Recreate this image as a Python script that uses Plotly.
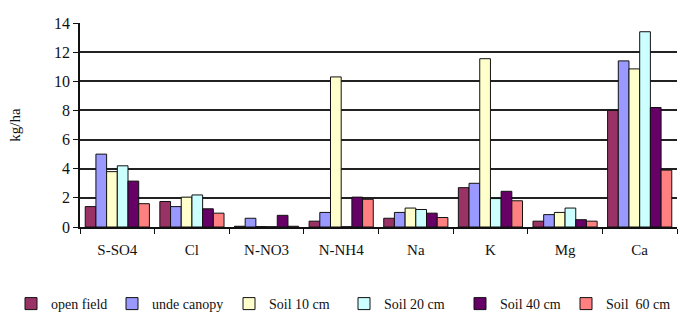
import plotly.graph_objects as go

categories = ["S-SO4", "Cl", "N-NO3", "N-NH4", "Na", "K", "Mg", "Ca"]

open_field = [1.4, 1.75, 0.05, 0.4, 0.6, 2.7, 0.4, 8.0]
under_canopy = [5.0, 1.4, 0.6, 1.0, 1.0, 3.0, 0.85, 11.4]
soil_10 = [3.8, 2.05, 0.03, 10.3, 1.3, 11.55, 1.0, 10.85]
soil_20 = [4.2, 2.2, 0.02, 0.02, 1.2, 1.95, 1.3, 13.4]
soil_40 = [3.15, 1.25, 0.8, 2.05, 0.95, 2.45, 0.5, 8.2]
soil_60 = [1.6, 0.95, 0.05, 1.9, 0.65, 1.8, 0.4, 3.9]

series_names = ["open field", "unde canopy", "Soil 10 cm", "Soil 20 cm",
                "Soil 40 cm", "Soil  60 cm"]
series_values = [open_field, under_canopy, soil_10, soil_20, soil_40, soil_60]
series_colors = ["#993366", "#9999FF", "#FFFFCC", "#CCFFFF", "#660066", "#FF8080"]

# left edge (px) of each legend entry along the bottom row
legend_left_px = [11, 112, 229, 344, 460, 566]

font_family = "Liberation Serif, Times New Roman, serif"
W, H = 684, 320

fig = go.Figure()
legend_layouts = {}
for i, (name, vals, color) in enumerate(zip(series_names, series_values, series_colors)):
    key = "legend" if i == 0 else f"legend{i + 1}"
    fig.add_trace(go.Bar(
        x=categories, y=vals, name=name, legend=key, showlegend=True,
        marker=dict(color=color, line=dict(color="#111111", width=1)),
    ))
    legend_layouts[key] = dict(
        orientation="h", xref="container", x=legend_left_px[i] / W, xanchor="left",
        yref="container", y=0.0, yanchor="bottom",
        font=dict(family=font_family, size=14, color="#111111"),
        itemwidth=30, bgcolor="rgba(0,0,0,0)",
    )

fig.update_layout(
    width=W, height=H,
    showlegend=True,
    margin=dict(l=80, r=7, t=23, b=93, autoexpand=False),
    paper_bgcolor="white", plot_bgcolor="white",
    barmode="group", bargap=0.14, bargroupgap=0,
    font=dict(family=font_family, size=15, color="#111111"),
    xaxis=dict(
        showline=True, linecolor="#111111", linewidth=1.5,
        ticks="outside", tickson="boundaries", ticklen=5, tickcolor="#111111",
        tickfont=dict(size=15), ticklabelstandoff=8,
        showgrid=False,
    ),
    yaxis=dict(
        range=[0, 14], dtick=2,
        showline=True, linecolor="#111111", linewidth=1.5,
        ticks="outside", ticklen=5, tickcolor="#111111",
        showgrid=True, gridcolor="#222222", gridwidth=1.5,
        zeroline=False,
        tickfont=dict(size=16),
        title=dict(text="kg/ha", font=dict(size=15), standoff=30),
    ),
    **legend_layouts,
)

fig.write_html("out.html")
